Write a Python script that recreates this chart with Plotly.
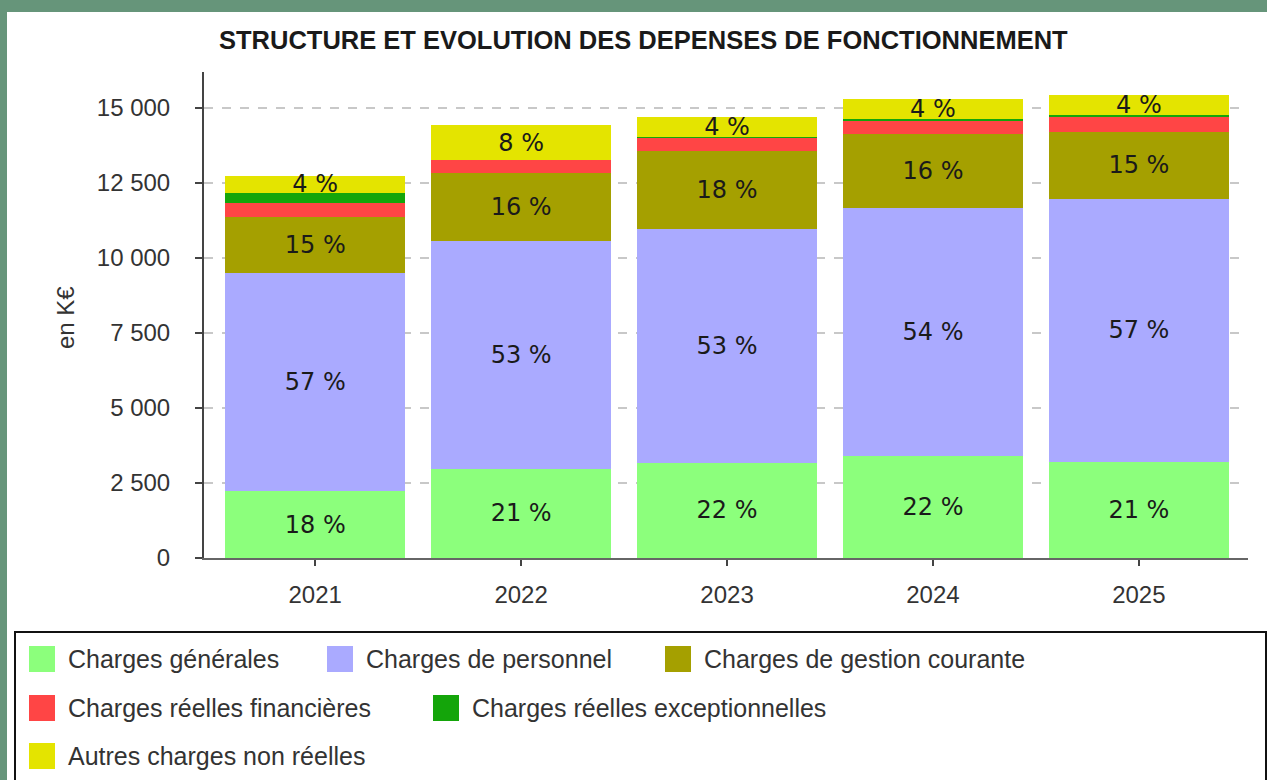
import plotly.graph_objects as go

years = ["2021", "2022", "2023", "2024", "2025"]
series_names = [
    "Charges générales",
    "Charges de personnel",
    "Charges de gestion courante",
    "Charges réelles financières",
    "Charges réelles exceptionnelles",
    "Autres charges non réelles",
]
charges_generales = [2233, 2967, 3167, 3400, 3200]
charges_personnel = [7257, 7610, 7800, 8283, 8767]
charges_gestion = [1887, 2246, 2600, 2450, 2243]
charges_financieres = [446, 444, 433, 450, 523]
charges_exceptionnelles = [354, 0, 50, 50, 44]
autres_non_reelles = [560, 1166, 650, 667, 666]
show_pct = [True, True, True, False, False, True]

colors = ["#8cff7c", "#aaaaff", "#a5a000", "#ff4545", "#14a50a", "#e4e400"]

all_series = [charges_generales, charges_personnel, charges_gestion,
              charges_financieres, charges_exceptionnelles, autres_non_reelles]
totals = [sum(s[i] for s in all_series) for i in range(len(years))]

W, H = 1267, 780
L, R, T, B = 204, 1248, 72, 558


def px(x):
    return (x - L) / (R - L)


def py(y):
    return (B - y) / (B - T)


fig = go.Figure()
for name, vals, col, sp in zip(series_names, all_series, colors, show_pct):
    texts = [f"{round(v / t * 100)} %" if sp else "" for v, t in zip(vals, totals)]
    fig.add_trace(go.Bar(
        x=years, y=vals, name=name, marker=dict(color=col, line=dict(width=0)),
        text=texts, textposition="inside", insidetextanchor="middle",
        textfont=dict(family="DejaVu Sans", size=24, color="#1a1a1a"),
        showlegend=False, cliponaxis=False,
    ))

shapes = [
    dict(type="rect", xref="paper", yref="paper", x0=px(7), x1=px(W + 20),
         y0=py(H + 20), y1=py(12), fillcolor="white", line=dict(width=0), layer="below"),
    dict(type="rect", xref="paper", yref="paper", x0=px(15), x1=px(1266),
         y0=py(H + 20), y1=py(632), fillcolor="rgba(0,0,0,0)",
         line=dict(color="#111", width=2)),
]
annotations = [
    dict(text="STRUCTURE ET EVOLUTION DES DEPENSES DE FONCTIONNEMENT", xref="paper", yref="paper",
         x=px(643), y=py(40), showarrow=False, xanchor="center", yanchor="middle",
         font=dict(family="Liberation Sans", size=25.5, color="#1a1a1a", weight="bold")),
    dict(text="en K€", xref="paper", yref="paper", x=px(65), y=py(318), textangle=-90,
         showarrow=False, xanchor="center", yanchor="middle",
         font=dict(family="Liberation Sans", size=24, color="#333")),
]

legend_pos = [(29, 659), (327, 659), (665, 659), (29, 708), (433, 708), (29, 756)]
for name, col, (lx, ly) in zip(series_names, colors, legend_pos):
    shapes.append(dict(type="rect", xref="paper", yref="paper", x0=px(lx), x1=px(lx + 26),
                       y0=py(ly + 13), y1=py(ly - 13), fillcolor=col, line=dict(width=0)))
    annotations.append(dict(text=name, xref="paper", yref="paper", x=px(lx + 37), y=py(ly),
                            showarrow=False, xanchor="left", yanchor="middle",
                            font=dict(family="Liberation Sans", size=25, color="#333")))

fig.update_layout(
    width=W, height=H, barmode="stack", bargap=0.125,
    margin=dict(l=L, r=W - R, t=T, b=H - B, pad=0),
    paper_bgcolor="#66957a", plot_bgcolor="white",
    separators=", ",
    uniformtext=dict(minsize=24, mode="show"),
    shapes=shapes, annotations=annotations,
    xaxis=dict(type="category", range=[-0.54, 4.53], showline=True, linecolor="#666",
               linewidth=2, ticks="outside", ticklen=6, tickwidth=2, tickcolor="#444",
               ticklabelstandoff=8, showgrid=False,
               tickfont=dict(family="Liberation Sans", size=24, color="#333")),
    yaxis=dict(range=[0, 16200], tickvals=[0, 2500, 5000, 7500, 10000, 12500, 15000],
               tickformat=",d", showline=True, linecolor="#444", linewidth=2,
               ticks="outside", ticklen=7, tickwidth=2, tickcolor="#444",
               ticklabelstandoff=20, showgrid=True, gridcolor="#c8c8c8", griddash="dash",
               gridwidth=1.5, zeroline=False,
               tickfont=dict(family="Liberation Sans", size=24, color="#333")),
)

fig.write_html(
    "out.html",
    config={"displayModeBar": False},
    post_script="document.body.style.margin='0';document.body.style.overflow='hidden';",
)
